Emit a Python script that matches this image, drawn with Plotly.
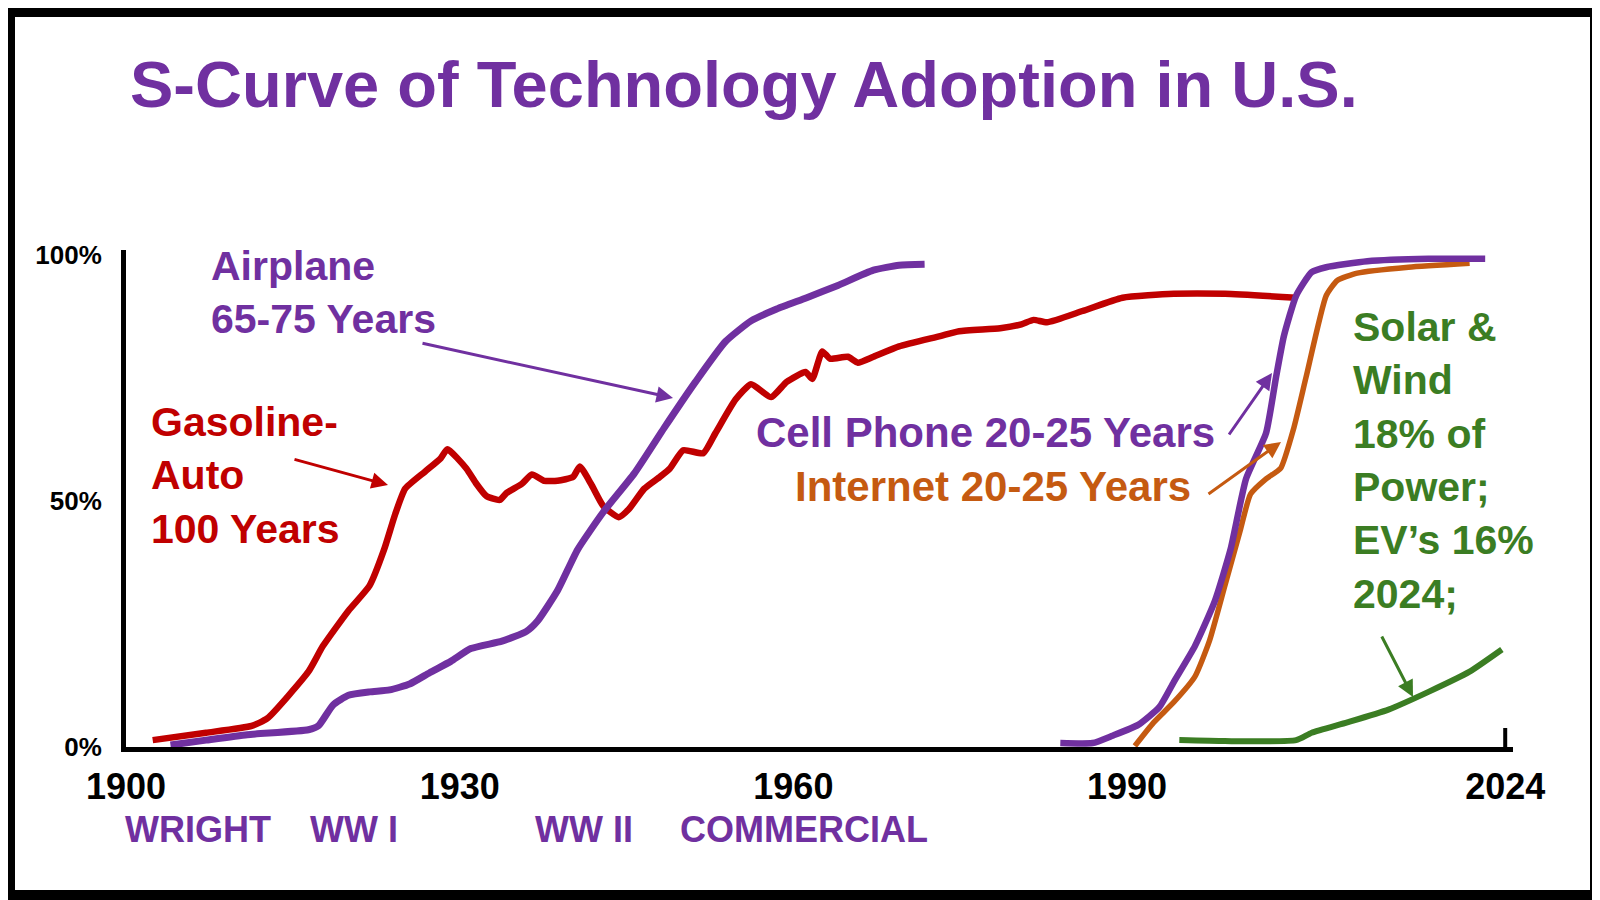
import plotly.graph_objects as go

W, H = 1600, 900
# the page body adds an 8px margin, so every pixel position below is
# measured on the reference and shifted back by OFF
OFF = 8
L, R, T, B = 118, 95, 242, 161

PURPLE = '#7030A0'
RED = '#C00000'
ORANGE = '#C55A11'
GREEN = '#3B7D23'

# gasoline auto adoption, % of households
auto_year = [1902.4, 1907.2, 1911.3, 1912.7, 1916.4, 1917.7, 1920.0, 1921.9, 1923.2, 1924.2,
             1925.1, 1926.9, 1928.3, 1928.9, 1930.6, 1931.5, 1932.4, 1933.6, 1934.2, 1935.6,
             1936.5, 1937.6, 1938.8, 1940.2, 1940.8, 1941.8, 1942.9, 1944.3, 1945.2, 1946.6,
             1948.0, 1948.9, 1950.1, 1951.9, 1953.0, 1954.8, 1956.2, 1958.0, 1959.4, 1961.1,
             1961.7, 1962.6, 1963.3, 1964.9, 1965.8, 1967.2, 1969.5, 1973.2, 1974.9, 1978.6,
             1980.5, 1981.6, 1982.8, 1986.0, 1989.6, 1994.2, 1998.8, 2005.2]
auto_pct = [1.4, 2.9, 4.3, 5.8, 15.3, 20.5, 27.7, 32.8, 40.1, 47.3,
            52.5, 56.0, 58.7, 60.5, 56.6, 53.5, 51.0, 50.2, 51.6, 53.5,
            55.4, 54.1, 54.1, 54.9, 57.0, 53.5, 49.0, 46.7, 48.3, 52.5,
            54.9, 56.6, 60.3, 59.7, 63.8, 70.6, 73.7, 71.1, 74.2, 76.2,
            74.8, 80.4, 78.9, 79.3, 78.1, 79.3, 81.4, 83.5, 84.5, 85.1,
            85.9, 86.8, 86.3, 88.6, 91.3, 92.1, 92.1, 91.3]

# airplane
air_year = [1904.0, 1907.2, 1910.9, 1916.4, 1917.3, 1918.6, 1920.0, 1921.9, 1923.7, 1925.5,
            1927.3, 1929.2, 1931.0, 1933.8, 1936.0, 1937.0, 1938.8, 1940.6, 1942.9, 1945.7,
            1948.4, 1951.2, 1953.9, 1956.2, 1958.5, 1961.2, 1964.0, 1967.2, 1969.5, 1971.8]
air_pct = [0.4, 1.4, 2.5, 3.5, 4.3, 8.5, 10.5, 11.2, 11.6, 12.8,
           15.1, 17.4, 20.0, 21.5, 23.5, 25.6, 31.8, 40.1, 47.7, 55.6,
           64.9, 74.2, 82.4, 86.6, 89.0, 91.3, 93.8, 96.9, 97.9, 98.1]

# cell phone
cell_year = [1984.0, 1986.9, 1988.7, 1991.0, 1992.9, 1994.2, 1996.1, 1997.9, 1999.3, 2000.7,
             2002.5, 2003.4, 2004.1, 2005.2, 2006.6, 2007.9, 2011.6, 2017.1, 2022.2]
cell_pct = [0.8, 0.8, 2.3, 4.5, 8.1, 13.2, 20.5, 29.7, 40.1, 54.5,
            63.8, 75.2, 83.5, 91.7, 96.5, 97.5, 98.7, 99.2, 99.2]

# internet
net_year = [1990.7, 1992.4, 1994.2, 1996.1, 1997.4, 1998.8, 2000.2, 2001.1, 2002.5, 2003.8,
            2005.0, 2006.1, 2007.9, 2008.9, 2010.7, 2015.3, 2020.8]
net_pct = [0.2, 5.0, 9.1, 14.3, 21.5, 32.8, 44.2, 51.4, 54.5, 56.6,
           64.9, 75.2, 91.7, 94.8, 96.3, 97.5, 98.3]

# solar & wind
solar_year = [1994.7, 1998.8, 2005.2, 2006.6, 2009.8, 2013.5, 2017.1, 2020.8, 2023.7]
solar_pct = [1.4, 1.2, 1.4, 2.9, 5.0, 7.6, 11.2, 15.3, 19.8]

year_ticks = [1900, 1930, 1960, 1990, 2024]
pct_ticks = [0, 50, 100]
pct_labels = ['0%', '50%', '100%']

era_labels = ['WRIGHT', 'WW I', 'WW II', 'COMMERCIAL']
era_px = [198, 354, 584, 804]


def paper_x(px):
    return (px - OFF - L) / (W - L - R)


def paper_y(py):
    return (H - B - (py - OFF)) / (H - T - B)


fig = go.Figure()

series = [
    (auto_year, auto_pct, RED, 6.5),
    (air_year, air_pct, PURPLE, 7),
    (net_year, net_pct, ORANGE, 5.5),
    (cell_year, cell_pct, PURPLE, 6.5),
    (solar_year, solar_pct, GREEN, 6),
]
for xs, ys, color, width in series:
    fig.add_trace(go.Scatter(x=xs, y=ys, mode='lines',
                             line=dict(color=color, width=width, shape='spline', smoothing=0.5),
                             hoverinfo='skip', showlegend=False))

# white slide inside the black frame
fig.add_shape(type='rect', xref='paper', yref='paper', layer='below',
              x0=paper_x(15), x1=paper_x(1590), y0=paper_y(890), y1=paper_y(17),
              fillcolor='white', line_width=0)
# end tick at 2024
fig.add_shape(type='line', xref='x', yref='paper', x0=2024, x1=2024,
              y0=0, y1=19 / (H - T - B), line=dict(color='black', width=4))

# text labels (left x, middle y in reference pixels)
labels = [
    ('Airplane<br>65-75 Years', PURPLE, 209, 292),
    ('Gasoline-<br>Auto<br>100 Years', RED, 149, 475),
    ('Cell Phone 20-25 Years', PURPLE, 754, 432),
    ('Internet 20-25 Years', ORANGE, 793, 486),
    ('Solar &<br>Wind<br>18% of<br>Power;<br>EV\u2019s 16%<br>2024;', GREEN, 1351, 460),
]
sizes = [41, 41, 42, 42, 41]
for (text, color, px, py), size in zip(labels, sizes):
    fig.add_annotation(text='<b>' + text + '</b>', xref='paper', yref='paper',
                       x=paper_x(px), y=paper_y(py), xanchor='left', yanchor='middle',
                       align='left', showarrow=False,
                       font=dict(family='Arial', size=size, color=color))

for text, px in zip(era_labels, era_px):
    fig.add_annotation(text='<b>' + text + '</b>', xref='paper', yref='paper',
                       x=paper_x(px), y=paper_y(829), xanchor='center', yanchor='middle',
                       showarrow=False, font=dict(family='Arial', size=36, color=PURPLE))

# arrows: tail pixel -> head pixel
arrows = [
    (421, 343, 673, 398, PURPLE),
    (293, 459, 388, 485, RED),
    (1228, 436, 1272, 373, PURPLE),
    (1207, 495, 1281, 442, ORANGE),
    (1381, 635, 1413, 697, GREEN),
]
for x0, y0, x1, y1, color in arrows:
    fig.add_annotation(text='', xref='paper', yref='paper',
                       x=paper_x(x1), y=paper_y(y1), ax=x0 - x1, ay=y0 - y1,
                       showarrow=True, arrowhead=2, arrowsize=1.1, arrowwidth=3,
                       arrowcolor=color, standoff=0)

fig.update_layout(
    width=W, height=H,
    margin=dict(l=L, r=R, t=T, b=B),
    paper_bgcolor='black', plot_bgcolor='white',
    font=dict(family='Arial'),
    showlegend=False,
    title=dict(text='<b>S-Curve of Technology Adoption in U.S.</b>',
               xref='container', yref='container', x=(130 - OFF) / W, xanchor='left',
               y=1 - (84 - OFF) / H, yanchor='middle',
               font=dict(family='Arial', size=65, color=PURPLE)),
)
fig.update_xaxes(range=[1900, 2024.7], showline=True, linecolor='black', linewidth=5,
                 showgrid=False, zeroline=False, ticks='',
                 tickvals=year_ticks, ticktext=[str(y) for y in year_ticks],
                 tickfont=dict(family='Arial', size=36, color='black', weight='bold'),
                 ticklabelstandoff=4)
fig.update_yaxes(range=[0, 101], showline=True, linecolor='black', linewidth=5,
                 showgrid=False, zeroline=False, ticks='',
                 tickvals=pct_ticks, ticktext=pct_labels,
                 tickfont=dict(family='Arial', size=26, color='black', weight='bold'),
                 ticklabelstandoff=14)

fig.write_html('out.html')
